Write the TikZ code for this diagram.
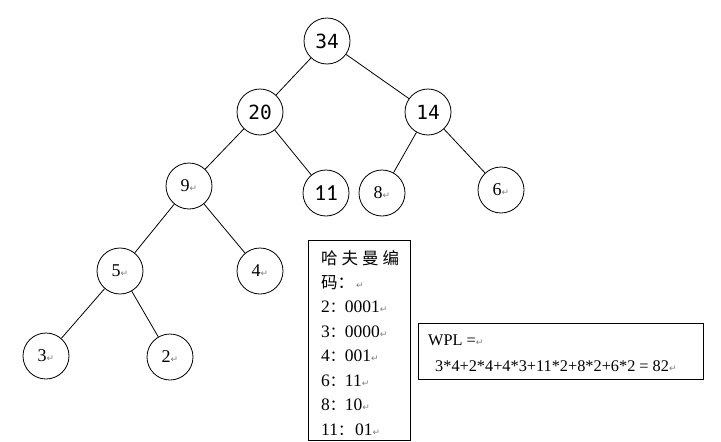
\documentclass[tikz,border=0pt]{standalone}
\usepackage{fontspec}
\setmainfont{Liberation Serif}
\newfontfamily\monof{DejaVu Sans Mono}
\newfontfamily\calib{Carlito}
\newfontfamily\cjk{Noto Sans CJK SC}
\newfontfamily\dejavu{DejaVu Sans}
\newcommand\retm{{\dejavu\color{gray}\fontsize{9}{9}\selectfont ↵}}
\newcommand\cjkcolon{{\cjk\fontsize{15}{15}\selectfont ：}}
\begin{document}
\begin{tikzpicture}[x=1pt,y=-1pt,
  nd/.style={circle,draw,line width=0.8pt,minimum size=46pt,inner sep=0pt},
  monon/.style={nd,font=\monof\fontsize{19.5}{19.5}\selectfont},
  calin/.style={nd,font=\calib\fontsize{23}{23}\selectfont},
  timn/.style={nd,font=\fontsize{18}{18}\selectfont},
  edge/.style={line width=0.8pt},
  boxn/.style={draw,line width=0.8pt,anchor=north west,inner sep=0pt},
  codet/.style={anchor=west,inner sep=0pt,font=\fontsize{17.5}{17.5}\selectfont},
  wplt/.style={anchor=west,inner sep=0pt,font=\fontsize{16.3}{16.3}\selectfont}]
\useasboundingbox[fill=white] (0,0) rectangle (721,442);
% tree nodes
\node[monon] (n34) at (327,41) {34};
\node[monon] (n20) at (260,112) {20};
\node[monon] (n14) at (428,112) {14};
\node[timn]  (n9)  at (189,186) {9\retm};
\node[calin] (n11) at (326,193) {11};
\node[timn]  (n8)  at (382,193) {8\retm};
\node[timn]  (n6)  at (501,190) {6\retm};
\node[timn]  (n5)  at (120,271) {5\retm};
\node[timn]  (n4)  at (260,271) {4\retm};
\node[timn]  (n3)  at (46,356)  {3\retm};
\node[timn]  (n2)  at (170,357) {2\retm};
% edges
\draw[edge] (n34) -- (n20);
\draw[edge] (n34) -- (n14);
\draw[edge] (n20) -- (n9);
\draw[edge] (n20) -- (n11);
\draw[edge] (n14) -- (n8);
\draw[edge] (n14) -- (n6);
\draw[edge] (n9) -- (n5);
\draw[edge] (n9) -- (n4);
\draw[edge] (n5) -- (n3);
\draw[edge] (n5) -- (n2);
% code box
\node[boxn,minimum width=102pt,minimum height=200pt] (codes) at (308,240) {};
\node[codet] (c0) at (321,258) {\cjk\fontsize{16.5}{16.5}\selectfont 哈\hspace{4pt}夫\hspace{4pt}曼\hspace{4pt}编};
\node[codet] (c1) at (321,282.5) {{\cjk\fontsize{16.5}{16.5}\selectfont 码：}\hspace{2pt}\retm};
\node[codet] (c2) at (321,307) {2\cjkcolon 0001\retm};
\node[codet] (c3) at (321,331.5) {3\cjkcolon 0000\retm};
\node[codet] (c4) at (321,356) {4\cjkcolon 001\retm};
\node[codet] (c5) at (321,380.5) {6\cjkcolon 11\retm};
\node[codet] (c6) at (321,405) {8\cjkcolon 10\retm};
\node[codet] (c7) at (321,429.5) {11\cjkcolon\hspace{2pt}01\retm};
% WPL box
\node[boxn,minimum width=285pt,minimum height=56pt] (wpl) at (418,323) {};
\node[wplt] (w1) at (428,340) {WPL =\retm};
\node[wplt] (w2) at (435,366) {3*4+2*4+4*3+11*2+8*2+6*2 = 82\retm};
\end{tikzpicture}
\end{document}
